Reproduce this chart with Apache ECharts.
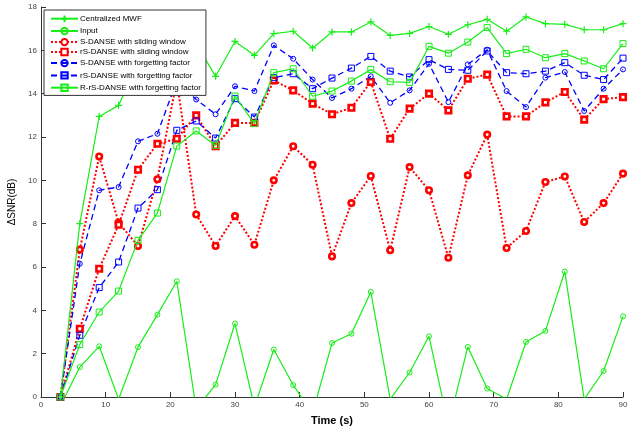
<!DOCTYPE html>
<html>
<head>
<meta charset="utf-8">
<script src="https://cdn.jsdelivr.net/npm/echarts@6/dist/echarts.min.js"></script>
<style>
html,body{margin:0;padding:0;background:#fff;}
#chart{width:641px;height:426px;}
</style>
</head>
<body>
<div id="chart"></div>
<script>
const times = [3,6,9,12,15,18,21,24,27,30,33,36,39,42,45,48,51,54,57,60,63,66,69,72,75,78,81,84,87,90];
const xTicks = [0,10,20,30,40,50,60,70,80,90];
const yTicks = [0,2,4,6,8,10,12,14,16,18];

const centralizedMWF = [0,8.0,12.95,13.46,15.4,16.0,16.6,16.3,14.8,16.41,15.77,16.77,16.88,16.11,16.85,16.85,17.31,16.69,16.78,17.1,16.74,17.18,17.43,16.88,17.54,17.23,17.2,16.95,16.95,17.23];
const input = [-0.42,1.38,2.34,-0.1,2.3,3.8,5.34,-0.55,0.57,3.39,-0.45,2.19,0.55,-0.75,2.49,2.92,4.85,-0.1,1.13,2.8,-1.3,2.31,0.39,-0.1,2.54,3.05,5.79,-0.1,1.2,3.72];
const sDanseSW = [0,6.8,11.1,8.05,6.97,10.05,14.6,8.42,6.97,8.35,7.03,10.0,11.57,10.72,6.49,8.95,10.2,6.77,10.61,9.54,6.43,10.23,12.11,6.88,7.66,9.92,10.18,8.08,8.95,10.31];
const rsDanseSW = [0,3.15,5.92,7.95,10.49,11.69,11.92,13.0,11.58,12.65,12.65,14.61,14.15,13.54,13.05,13.35,14.54,11.92,13.31,14.0,13.23,14.69,14.88,12.95,12.95,13.6,14.08,12.8,13.75,13.84];
const sDanseFF = [0,6.15,9.54,9.69,11.8,12.15,14.6,13.73,13.05,14.34,14.12,16.23,15.61,14.65,13.8,14.23,14.8,13.58,14.15,15.38,13.61,15.35,16.03,14.12,13.38,14.74,15.0,13.2,14.23,15.12];
const rsDanseFF = [0,2.85,5.05,6.23,8.72,9.57,12.31,12.74,11.95,13.77,12.92,14.74,14.92,14.23,14.72,15.18,15.72,15.04,14.77,15.57,15.12,15.08,15.97,14.97,14.92,15.04,15.43,14.85,14.65,15.64];
const rrsDanseFF = [0,2.42,3.92,4.89,7.23,8.49,11.58,12.28,11.61,13.89,12.62,14.97,15.15,13.88,14.12,14.58,15.11,14.55,14.52,16.18,15.87,16.38,17.05,15.85,16.05,15.66,15.85,15.51,15.15,16.31];

const names = ['Centralized MWF','Input','S-DANSE with sliding window','rS-DANSE with sliding window','S-DANSE with forgetting factor','rS-DANSE with forgetting factor','R-rS-DANSE with forgetting factor'];

const GREEN = '#16ee16', RED = '#ff0000', BLUE = '#0000ff';
const pair = vals => times.map((t,i)=>[t, vals[i]]);
const plusPath = 'path://M0,5L10,5M5,0L5,10';

function mk(name, vals, color, lineType, lineWidth, symbol, symbolSize, borderWidth, fill, z){
  return {
    name, type:'line', data: pair(vals), clip:true, z: z,
    symbol, symbolSize, showSymbol:true, animation:false,
    lineStyle:{color, width:lineWidth, type:lineType},
    itemStyle:{color: fill, borderColor: color, borderWidth},
    emphasis:{disabled:true}
  };
}

const series = [
  mk(names[0], centralizedMWF, GREEN, 'solid', 1.2, plusPath, 7, 1.2, 'none', 3),
  mk(names[1], input, GREEN, 'solid', 1.2, 'circle', 5, 1, 'none', 3),
  mk(names[2], sDanseSW, RED, [2,2], 2, 'circle', 5.5, 2.6, '#fff', 2),
  mk(names[3], rsDanseSW, RED, [2,2], 2, 'rect', 5.5, 2.6, '#fff', 2),
  mk(names[4], sDanseFF, BLUE, [6,4], 1.3, 'circle', 5, 1, 'none', 2),
  mk(names[5], rsDanseFF, BLUE, [6,4], 1.3, 'rect', 6, 1, 'none', 2),
  mk(names[6], rrsDanseFF, GREEN, 'solid', 1.2, 'rect', 6, 1, 'none', 3)
];

const chart = echarts.init(document.getElementById('chart'), null, {renderer:'canvas'});
chart.setOption({
  animation:false,
  backgroundColor:'#fff',
  textStyle:{fontFamily:'Liberation Sans, Arial, sans-serif'},
  grid:{left:41, right:18, top:7, bottom:29, containLabel:false, outerBoundsMode:'none'},
  legend:{
    data: names, orient:'vertical', left:44, top:10,
    backgroundColor:'#fff', borderColor:'#333', borderWidth:1,
    padding:[3,5,2,6], itemWidth:27, itemHeight:8, itemGap:0.9,
    textStyle:{fontSize:8, color:'#000', lineHeight:9, padding:[0,0,0,-3], fontFamily:'Liberation Sans, Arial, sans-serif'},
    z: 10
  },
  xAxis:{
    type:'value', min:0, max:90, interval:10,
    name:'Time (s)', nameLocation:'middle', nameGap:18,
    nameTextStyle:{fontSize:11, color:'#000', fontWeight:'bold', fontFamily:'Liberation Sans, Arial, sans-serif'},
    axisLine:{show:true, onZero:false, lineStyle:{color:'#333', width:1}},
    axisTick:{show:true, inside:true, length:5, lineStyle:{color:'#333'}},
    axisLabel:{fontSize:8, color:'#444', margin:4, formatter: v => xTicks.includes(v) ? String(v) : ''},
    splitLine:{show:false}
  },
  yAxis:{
    type:'value', min:0, max:18, interval:2,
    name:'\u0394SNR(dB)', nameLocation:'middle', nameGap:23, nameRotate:90,
    nameTextStyle:{fontSize:10, color:'#000', fontFamily:'Liberation Sans, Arial, sans-serif'},
    axisLine:{show:true, onZero:false, lineStyle:{color:'#333', width:1}},
    axisTick:{show:true, inside:true, length:5, lineStyle:{color:'#333'}},
    axisLabel:{fontSize:8, color:'#444', margin:4, formatter: v => yTicks.includes(v) ? String(v) : ''},
    splitLine:{show:false}
  },
  series
});
</script>
</body>
</html>
